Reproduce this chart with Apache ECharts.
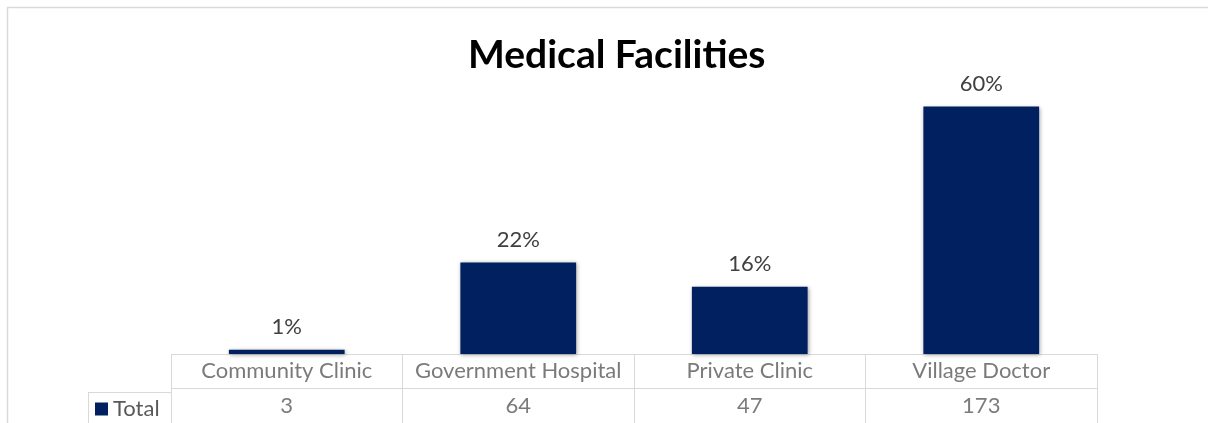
<!DOCTYPE html>
<html>
<head>
<meta charset="utf-8">
<script src="https://cdn.jsdelivr.net/npm/echarts@6/dist/echarts.min.js"></script>
<style>
html,body{margin:0;padding:0;background:#fff;}
#chart{width:1208px;height:423px;}
</style>
</head>
<body>
<div id="chart"></div>
<script>
const titleText = 'Medical Facilities';
const seriesName = 'Total';
const categories = ['Community Clinic', 'Government Hospital', 'Private Clinic', 'Village Doctor'];
const values = [3, 64, 47, 173];

const total = values.reduce((a, b) => a + b, 0);
const FONT = 'Lato, "Noto Sans", sans-serif';
const TXT = '#595959';
const LINE = '#d9d9d9';

// table cells: header row (row 0) with category names, value row (row 1)
const tableCells = [];
categories.forEach((c, i) => tableCells.push({ value: [i, 0], text: c }));
values.forEach((v, i) => tableCells.push({ value: [i, 1], text: String(v) }));

const chart = echarts.init(document.getElementById('chart'));
chart.setOption({
  animation: false,
  backgroundColor: '#fff',
  title: {
    text: titleText,
    left: 463,
    top: 31,
    textStyle: { fontFamily: FONT, fontSize: 39, fontWeight: 'bold', color: '#000' }
  },
  legend: {
    data: [seriesName],
    left: 95,
    top: 398,
    padding: 0,
    icon: 'rect',
    itemWidth: 13,
    itemHeight: 13,
    textStyle: { fontFamily: FONT, fontSize: 22, color: TXT }
  },
  graphic: [{
    type: 'rect',
    shape: { x: 7.5, y: 7.5, width: 1300, height: 440 },
    style: { fill: 'none', stroke: LINE, lineWidth: 1.5 },
    silent: true
  }],
  grid: [
    { left: 171, width: 926, top: 68, height: 286 },          // bars
    { left: 171, width: 926, top: 354, height: 76 },          // data table
    { left: 88, width: 83, top: 392, height: 38 }             // legend cell
  ],
  xAxis: [
    { gridIndex: 0, type: 'category', data: categories, axisLine: { show: false }, axisTick: { show: false }, axisLabel: { show: false } },
    { gridIndex: 1, type: 'category', data: categories, axisLine: { show: false }, axisTick: { show: false }, axisLabel: { show: false },
      splitLine: { show: true, lineStyle: { color: LINE, width: 1 } } },
    { gridIndex: 2, type: 'category', data: [''], axisLine: { show: false }, axisTick: { show: false }, axisLabel: { show: false },
      splitLine: { show: true, lineStyle: { color: LINE, width: 1 } } }
  ],
  yAxis: [
    { gridIndex: 0, type: 'value', min: 0, max: 200, show: false },
    { gridIndex: 1, type: 'category', data: ['header', 'value'], inverse: true, axisLine: { show: false }, axisTick: { show: false }, axisLabel: { show: false },
      splitLine: { show: true, lineStyle: { color: LINE, width: 1 } } },
    { gridIndex: 2, type: 'category', data: [''], axisLine: { show: false }, axisTick: { show: false }, axisLabel: { show: false },
      splitLine: { show: true, lineStyle: { color: LINE, width: 1 } } }
  ],
  series: [
    {
      name: seriesName,
      type: 'bar',
      xAxisIndex: 0,
      yAxisIndex: 0,
      data: values,
      barCategoryGap: '50%',
      itemStyle: { color: '#002060', shadowBlur: 4, shadowColor: 'rgba(0,0,0,0.35)', shadowOffsetX: 1, shadowOffsetY: 1 },
      label: {
        show: true,
        position: 'top',
        distance: 12,
        fontFamily: FONT,
        fontSize: 22,
        color: '#404040',
        formatter: p => Math.round(p.value / total * 100) + '%'
      }
    },
    {
      type: 'scatter',
      xAxisIndex: 1,
      yAxisIndex: 1,
      symbolSize: 0,
      silent: true,
      data: tableCells,
      label: {
        show: true,
        position: 'inside',
        fontFamily: FONT,
        fontSize: 22,
        color: TXT,
        formatter: p => p.data.text
      }
    }
  ]
});
</script>
</body>
</html>
